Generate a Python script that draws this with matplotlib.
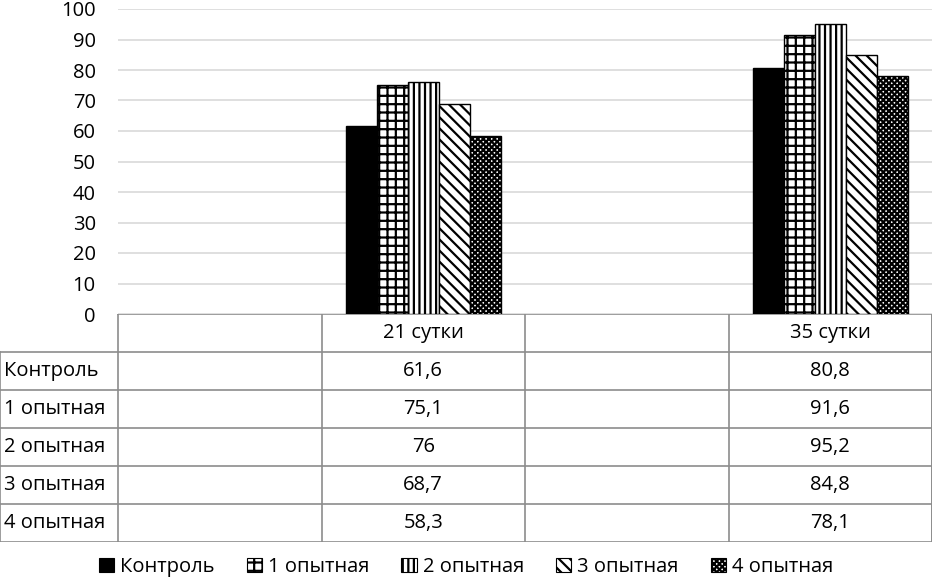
import matplotlib.pyplot as plt
from matplotlib.patches import Patch

# ---------- data ----------
categories = ["", "21 сутки", "", "35 сутки"]
groups = ["Контроль", "1 опытная", "2 опытная", "3 опытная", "4 опытная"]
kontrol = [None, 61.6, None, 80.8]
op1 = [None, 75.1, None, 91.6]
op2 = [None, 76, None, 95.2]
op3 = [None, 68.7, None, 84.8]
op4 = [None, 58.3, None, 78.1]
series = [kontrol, op1, op2, op3, op4]
yticks = list(range(0, 101, 10))

# ---------- style ----------
plt.rcParams["font.family"] = ["Open Sans", "DejaVu Sans"]
plt.rcParams["hatch.linewidth"] = 1.6
FS = 14.5
GRID = "#d9d9d9"
TBL = "#8c8c8c"
styles = [
    dict(facecolor="black", hatch=None),
    dict(facecolor="white", hatch="++"),
    dict(facecolor="white", hatch="|||"),
    dict(facecolor="white", hatch="\\\\\\"),
    dict(facecolor="white", hatch="xxxxxx"),
]

W, H = 932, 580
fig = plt.figure(figsize=(W / 100, H / 100), dpi=100)

left_px, top_px, zero_px = 118, 9, 314
ax = fig.add_axes([left_px / W, 1 - zero_px / H, 1 - left_px / W, (zero_px - top_px) / H])

n = len(groups)
group_w = 0.76
bw = group_w / n
for k, (vals, st) in enumerate(zip(series, styles)):
    xs = [i for i, v in enumerate(vals) if v is not None]
    ys = [v for v in vals if v is not None]
    off = -group_w / 2 + bw * (k + 0.5)
    ax.bar([x + off for x in xs], ys, width=bw, edgecolor="black", linewidth=1,
           facecolor=st["facecolor"], hatch=st["hatch"], zorder=3)

ax.set_xlim(-0.5, len(categories) - 0.5)
ax.set_ylim(0, 100)
ax.set_yticks(yticks)
ax.set_xticks([])
ax.tick_params(axis="y", length=0, labelsize=FS, pad=16)
ax.grid(axis="y", color=GRID, linewidth=1.2, zorder=0)
for s in ax.spines.values():
    s.set_visible(False)

# ---------- data table ----------
row_h = 38
tbl_top = zero_px
tbl_bot = zero_px + row_h * (len(groups) + 1)
tax = fig.add_axes([0, 1 - tbl_bot / H, 1, (tbl_bot - tbl_top) / H])
cat_w = (W - left_px) / len(categories)
x0 = -0.5 - left_px / cat_w
tax.set_xlim(x0, len(categories) - 0.5)
tax.set_ylim(len(groups) + 1, 0)
tax.axis("off")

# horizontal lines
tax.plot([-0.5, len(categories) - 0.5], [0, 0], color=TBL, lw=1.2)
for r in range(1, len(groups) + 2):
    tax.plot([x0, len(categories) - 0.5], [r, r], color=TBL, lw=1.2)
# vertical lines
tax.plot([x0 + 0.002, x0 + 0.002], [1, len(groups) + 1], color=TBL, lw=1.2)
for c in range(len(categories) + 1):
    tax.plot([c - 0.5, c - 0.5], [0, len(groups) + 1], color=TBL, lw=1.2)
tax.plot([len(categories) - 0.5 - 0.002] * 2, [0, len(groups) + 1], color=TBL, lw=1.2)

for i, cat in enumerate(categories):
    tax.text(i, 0.5, cat, ha="center", va="center", fontsize=FS)
for r, (g, vals) in enumerate(zip(groups, series)):
    tax.text(x0 + 0.02, r + 1.5, g, ha="left", va="center", fontsize=FS)
    for i, v in enumerate(vals):
        if v is not None:
            tax.text(i, r + 1.5, f"{v:g}".replace(".", ","), ha="center", va="center", fontsize=FS)

# ---------- legend ----------
handles = [Patch(facecolor=st["facecolor"], hatch=st["hatch"], edgecolor="black", linewidth=0.8)
           for st in styles]
fig.legend(handles, groups, loc="center", bbox_to_anchor=(0.5, 1 - 567 / H), ncol=n,
           frameon=False, fontsize=FS, handlelength=0.75, handleheight=0.75,
           handletextpad=0.3, columnspacing=1.6)

fig.savefig("out.png", dpi=100)
